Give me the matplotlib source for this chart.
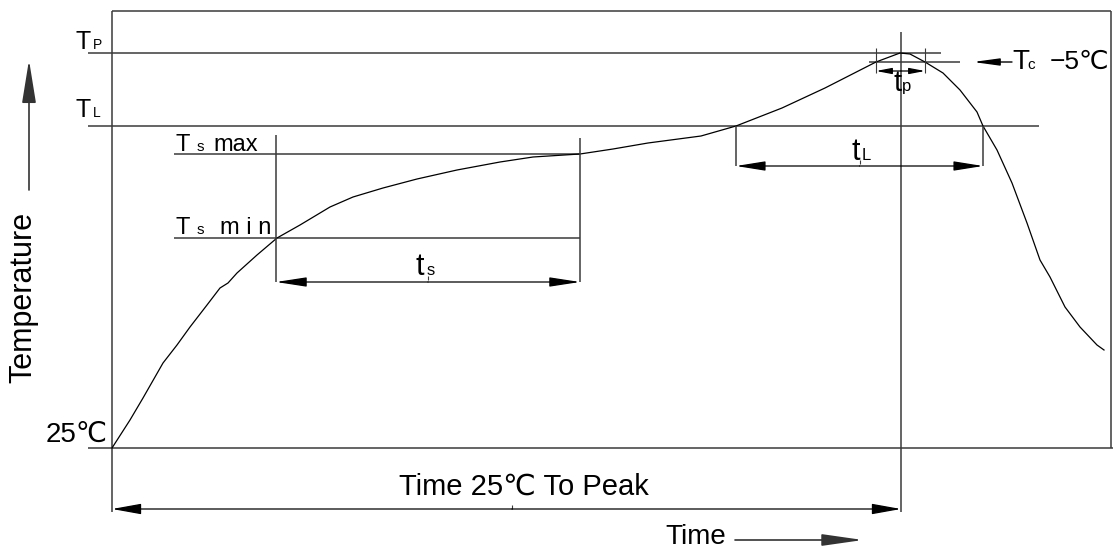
import matplotlib
matplotlib.use("Agg")
import matplotlib.pyplot as plt

# reflow profile (time units / temperature units above 25 C)
time = [0, 18, 31, 51, 65, 78, 95, 108, 116, 125, 145, 165, 188, 218, 241, 271, 305,
        345, 388, 421, 468, 501, 536, 589, 610, 624, 670, 713, 764, 780, 788, 798, 813,
        831, 848, 865, 871, 885, 900, 915, 928, 938, 953, 968, 985, 992]
temp = [0, 28, 50, 85, 103, 121, 143, 160, 165, 175, 193, 210, 223, 241, 251, 260, 269,
        278, 286, 291, 294, 299, 305, 312, 318, 322, 340, 360, 386, 392, 395, 394, 386,
        375, 358, 336, 322, 298, 265, 225, 188, 171, 141, 121, 103, 98]

# temperature levels
T_P = 395
T_C5 = 386
T_L = 322
TS_MAX = 294
TS_MIN = 210
T_25 = 0

# time marks
t_s = (164, 468)
t_l = (624, 871)
t_p = (764, 813)
t_peak = 789

# frame of the chart
x_end = 999
y_top = 437

LINE = "#3a3a3a"
FONT = ["Liberation Sans Narrow", "Liberation Sans", "DejaVu Sans"]

fig = plt.figure(figsize=(11.13, 5.5), dpi=100)
ax = fig.add_axes([0, 0, 1, 1])
ax.set_xlim(-112, 1001)
ax.set_ylim(-102, 448)
ax.axis("off")


def hline(y, x0, x1, **kw):
    ax.plot([x0, x1], [y, y], color=kw.get("color", LINE), lw=kw.get("lw", 1.1),
            solid_capstyle="butt")


def vline(x, y0, y1, **kw):
    ax.plot([x, x], [y0, y1], color=kw.get("color", LINE), lw=kw.get("lw", 1.1),
            solid_capstyle="butt")


def arrow(tail, tip, hl, hw, style="-|>", color="black", lw=1.0):
    ax.annotate("", xy=tip, xytext=tail,
                arrowprops=dict(arrowstyle="%s,head_length=%g,head_width=%g" % (style, hl / 1.389, hw / 1.389),
                                color=color, lw=lw, shrinkA=0, shrinkB=0, mutation_scale=1))


def label(x, y, s, size, ha="left", **kw):
    ax.text(x, y, s, fontsize=size, ha=ha, va="baseline", family=kw.pop("family", FONT),
            color="black", **kw)


# box
hline(y_top, 0, x_end)
vline(x_end, T_25, y_top)
vline(0, -64, y_top)
hline(T_25, -24, 1001)

# level lines
hline(T_P, -24, 829)
hline(T_L, -24, 927)
hline(TS_MAX, 62, t_s[1])
hline(TS_MIN, 62, t_s[1])
hline(T_C5, 757, 848)

# peak line
vline(t_peak, -64, 416)

# profile
ax.plot(time, temp, color="black", lw=0.9)

# ts dimension
vline(t_s[0], 166, 313)
vline(t_s[1], 166, 310)
arrow((sum(t_s) / 2, 166), (t_s[0], 166), 26, 4, lw=0.9)
arrow((sum(t_s) / 2, 166), (t_s[1], 166), 26, 4, lw=0.9)
vline(sum(t_s) / 2, 168, 172, lw=0.8)
label(303, 173, "t", 22)
label(315, 173, "s", 12)

# tL dimension
vline(t_l[0], 282, T_L)
vline(t_l[1], 282, T_L)
arrow((sum(t_l) / 2, 282), (t_l[0], 282), 25, 4, lw=0.9)
arrow((sum(t_l) / 2, 282), (t_l[1], 282), 25, 4, lw=0.9)
vline(sum(t_l) / 2, 284, 288, lw=0.8)
label(739, 288, "t", 22)
label(750, 288, "L", 12)

# tp dimension
vline(t_p[0], 375, 400, lw=0.8)
vline(t_p[1], 375, 400, lw=0.8)
arrow((t_peak, 377), (t_p[0], 377), 13, 2.5, lw=0.9)
arrow((t_peak, 377), (t_p[1], 377), 13, 2.5, lw=0.9)
label(781, 357, "t", 21)
label(790, 357, "p", 12)

# Tc -5 C pointer
arrow((900, T_C5), (861, T_C5), 22, 3, lw=1.0)
label(900, 379, "T", 20)
label(915, 379, "c", 11)
label(938, 379, "−5℃", 19)

# time 25 C to peak dimension
arrow((400, -61), (0, -61), 25, 4.5, lw=0.9)
arrow((400, -61), (t_peak, -61), 25, 4.5, lw=0.9)
vline(400, -57, -61, lw=0.8)
label(412, -47, "Time 25℃ To Peak", 21, ha="center")

# level labels
label(-37, 399, "T", 18)
label(-19, 399, "P", 10)
label(-37, 331, "T", 18)
label(-19, 331, "L", 10)
label(64, 297, "T", 17)
label(85, 297, "s", 11)
label(101, 297, "max", 17)
label(64, 214, "T", 17)
label(85, 214, "s", 11)
label(108, 214, "m i n", 17)
label(-4, 6, "25℃", 20, ha="right")

# axis names
ax.text(-89, 151, "Temperature", fontsize=22, rotation=90, ha="center", va="center",
        family=["Liberation Sans", "DejaVu Sans"])
arrow((-83, 258), (-83, 388), 37, 6, color="#333333", lw=1.2)
label(553, -96, "Time", 20)
arrow((623, -92), (751, -92), 35, 5, color="#333333", lw=1.2)

fig.savefig("out.png", dpi=100)
